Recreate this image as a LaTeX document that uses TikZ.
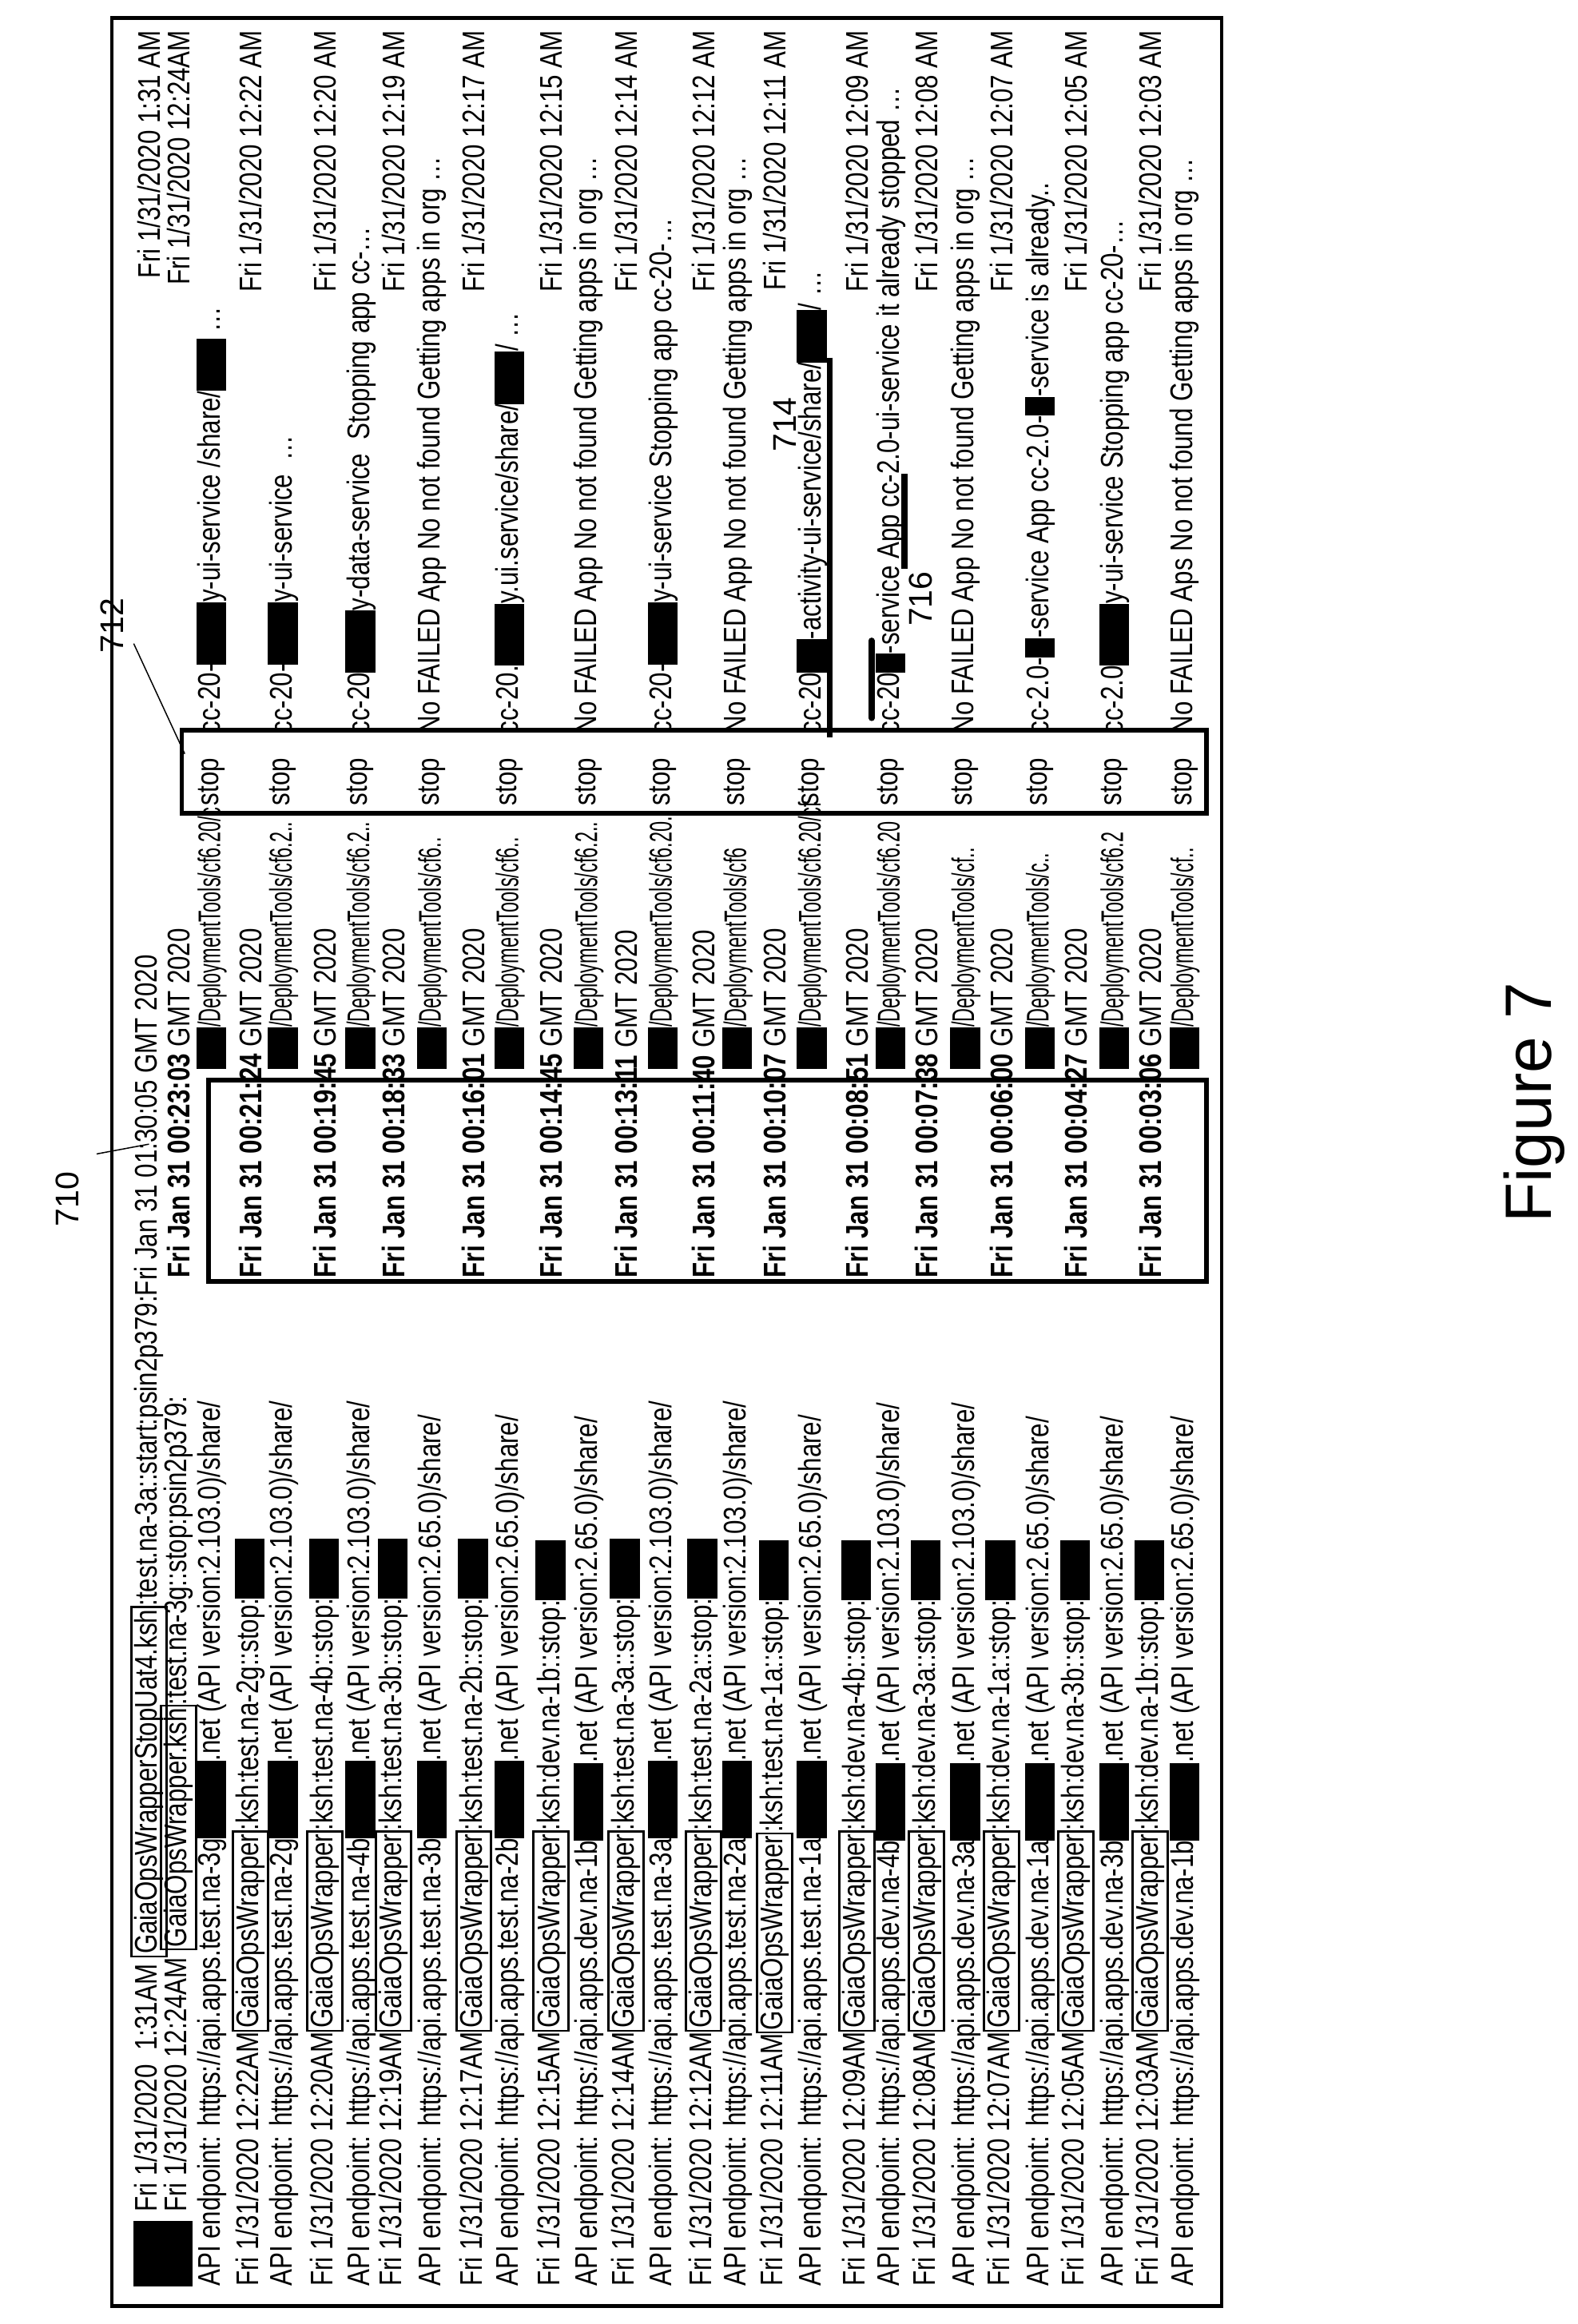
\documentclass[tikz,border=0pt]{standalone}
\usepackage{fontspec}
\setmainfont{Liberation Sans}
\usetikzlibrary{positioning}
\setlength\fboxsep{0.6pt}
\setlength\fboxrule{0.8pt}
\newcommand\gw[1]{\fbox{#1}}
\newcommand\blk[1]{\rule[-2pt]{#1}{10pt}}
\newcommand\sq[2]{\scalebox{#1}[1]{#2}}
% time line: x, time, host, stamp, top date
\newcommand\tline[5]{%
  \node[txt] (t#1a) at (#1,1535) {\sq{0.8}{Fri 1/31/2020 #2\gw{GaiaOpsWrapper}:ksh:#3::stop:}\blk{20pt}};
  \node[txt] (t#1b) at (#1,858) {\sq{0.8}{\textbf{Fri Jan 31 00:#4} GMT 2020}};
  \node[txt,anchor=east] (t#1c) at (#1,20) {\sq{0.8}{Fri 1/31/2020 #5}};
}
% api line: x, host, version, tools, rest
\newcommand\aline[5]{%
  \node[txt] (a#1a) at (#1,1535) {\sq{0.8}{API endpoint: https://api.apps.#2}\blk{26pt}\sq{0.8}{.net (API version:#3)/share/}};
  \node[txt] (a#1b) at (#1,718) {\blk{14pt}\sq{0.6}{/DeploymentTools/#4}};
  \node[txt] (a#1c) at (#1,541) {\sq{0.8}{stop}};
  \node[txt] (a#1d) at (#1,493) {\sq{0.8}{#5}};
}
\begin{document}
\begin{tikzpicture}[x=0.5pt,y=-0.5pt,
    txt/.style={rotate=90,anchor=west,inner sep=0pt,font=\fontsize{10.5}{11}\selectfont},
    frame/.style={draw,line width=1.6pt},
    lbl/.style={rotate=90,font=\fontsize{11}{12}\selectfont},
    ]
    \useasboundingbox (0,0) rectangle (1059,1560);
    \draw[line width=1.2pt] (75,12) rectangle (820,1548);

    % first entry
    \node[txt] (r1a) at (100,1535) {\blk{22pt}\ \sq{0.8}{Fri 1/31/2020\ \ 1:31AM \gw{GaiaOpsWrapperStopUat4.ksh}:test.na-3a::start:psin2p379:Fri Jan 31 01:30:05 GMT 2020}};
    \node[txt,anchor=east] (r1b) at (100,20) {\sq{0.8}{Fri 1/31/2020 1:31 AM}};
    \node[txt] (r2a) at (120,1535) {\blk{22pt}\ \sq{0.8}{Fri 1/31/2020\ 12:24AM \gw{GaiaOpsWrapper.ksh}:test.na-3g::stop:psin2p379:}};
    \node[txt] (r2b) at (120,858) {\sq{0.8}{\textbf{Fri Jan 31 00:23:03} GMT 2020}};
    \node[txt,anchor=east] (r2c) at (120,20) {\sq{0.8}{Fri 1/31/2020 12:24AM}};
    \aline{142}{test.na-3g}{2.103.0}{cf6.20/c}{cc-20-\blk{26pt}y-ui-service /share/\blk{22pt} \dots}

    \tline{168}{12:22AM}{test.na-2g}{21:24}{12:22 AM}
    \aline{190}{test.na-2g}{2.103.0}{cf6.2..}{cc-20-\blk{26pt}y-ui-service \ \dots}
    \tline{218}{12:20AM}{test.na-4b}{19:45}{12:20 AM}
    \aline{242}{test.na-4b}{2.103.0}{cf6.2..}{cc-20\blk{26pt}y-data-service\ \ Stopping app cc-\dots}
    \tline{264}{12:19AM}{test.na-3b}{18:33}{12:19 AM}
    \aline{290}{test.na-3b}{2.65.0}{cf6..}{No FAILED App No not found Getting apps in org \dots}
    \tline{318}{12:17AM}{test.na-2b}{16:01}{12:17 AM}
    \aline{342}{test.na-2b}{2.65.0}{cf6..}{cc-20.\blk{26pt}y.ui.service/share/\blk{22pt}/ \dots}
    \tline{370}{12:15AM}{dev.na-1b}{14:45}{12:15 AM}
    \aline{395}{dev.na-1b}{2.65.0}{cf6.2..}{No FAILED App No not found Getting apps in org \dots}
    \tline{420}{12:14AM}{test.na-3a}{13:11}{12:14 AM}
    \aline{445}{test.na-3a}{2.103.0}{cf6.20.}{cc-20-\blk{26pt}y-ui-service Stopping app cc-20-\dots}
    \tline{472}{12:12AM}{test.na-2a}{11:40}{12:12 AM}
    \aline{495}{test.na-2a}{2.103.0}{cf6}{No FAILED App No not found Getting apps in org \dots}
    \tline{520}{12:11AM}{test.na-1a}{10:07}{12:11 AM}
    \aline{545}{test.na-1a}{2.65.0}{cf6.20/cf}{cc-20\blk{14pt}-activity-ui-service/share/\blk{22pt}/ \dots}
    \tline{575}{12:09AM}{dev.na-4b}{08:51}{12:09 AM}
    \aline{598}{dev.na-4b}{2.103.0}{cf6.20}{cc-20\blk{8pt}-service App cc-2.0-ui-service it already stopped \dots}
    \tline{622}{12:08AM}{dev.na-3a}{07:38}{12:08 AM}
    \aline{648}{dev.na-3a}{2.103.0}{cf..}{No FAILED App No not found Getting apps in org \dots}
    \tline{672}{12:07AM}{dev.na-1a}{06:00}{12:07 AM}
    \aline{698}{dev.na-1a}{2.65.0}{c..}{cc-2.0-\blk{8pt}-service App cc-2.0-\blk{8pt}-service is already..}
    \tline{722}{12:05AM}{dev.na-3b}{04:27}{12:05 AM}
    \aline{748}{dev.na-3b}{2.65.0}{cf6.2}{cc-2.0\blk{26pt}y-ui-service Stopping app cc-20-\dots}
    \tline{772}{12:03AM}{dev.na-1b}{03:06}{12:03 AM}
    \aline{795}{dev.na-1b}{2.65.0}{cf..}{No FAILED Aps No not found Getting apps in org \dots}

    % highlight boxes
    \draw[frame] (140,725) rectangle (810,860);
    \draw[frame] (122,490) rectangle (810,546);
    \node[lbl] (n710) at (45,805) {710};
    \node[lbl] (n712) at (75,420) {712};
    \draw (n710.south east) ++(5,-5) coordinate (c710) -- (100,768);
    \draw (n712.south) ++(0,12) coordinate (c712) -- (124,506);
    \node[lbl] (n714) at (527,285) {714};
    \node[lbl] (n716) at (618,402) {716};
    \draw[line width=2pt] (557,240) -- (557,495);
    \draw[line width=2pt] (607,318) -- (607,382);
    \draw[line width=2pt,line cap=round] (585,430) -- (585,482);
    \node[rotate=90,font=\fontsize{22}{24}\selectfont] (fig) at (1030,740) {Figure 7};
\end{tikzpicture}
\end{document}
